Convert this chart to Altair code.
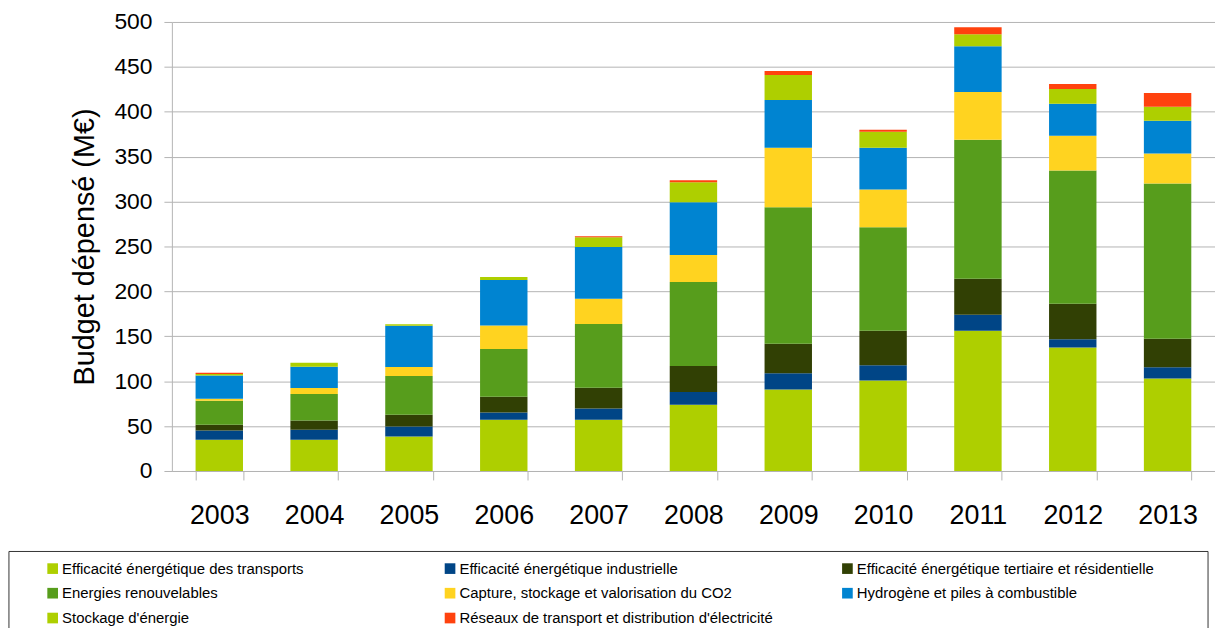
import altair as alt
import pandas as pd

years = ["2003", "2004", "2005", "2006", "2007", "2008", "2009", "2010", "2011", "2012", "2013"]

categories = [
    "Efficacité énergétique des transports",
    "Efficacité énergétique industrielle",
    "Efficacité énergétique tertiaire et résidentielle",
    "Energies renouvelables",
    "Capture, stockage et valorisation du CO2",
    "Hydrogène et piles à combustible",
    "Stockage d'énergie",
    "Réseaux de transport et distribution d'électricité",
]
colors = ["#AECF00", "#004586", "#314004", "#579D1C", "#FFD320", "#0084D1", "#AECF00", "#FF420E"]

# legend is filled column by column: order the entries so that rows read as in the original
legend_order = [0, 3, 6, 1, 4, 7, 2, 5]

transports = [34.8, 34.8, 38.5, 57.0, 57.0, 73.7, 90.8, 100.8, 156.2, 137.4, 103.0]
industrielle = [10.4, 11.1, 11.1, 8.2, 12.6, 14.4, 18.1, 17.0, 17.7, 9.2, 12.6]
tertiaire = [6.3, 10.3, 13.0, 17.4, 23.0, 28.9, 32.9, 38.4, 40.3, 39.5, 31.7]
renouvelables = [26.6, 29.6, 43.3, 53.3, 71.1, 93.4, 151.8, 115.2, 154.7, 148.5, 172.9]
co2 = [2.3, 6.7, 9.8, 26.0, 28.2, 30.0, 66.4, 42.1, 53.2, 38.7, 33.2]
hydrogene = [25.9, 23.7, 46.0, 50.7, 57.4, 58.9, 53.2, 46.5, 50.9, 35.5, 36.6]
stockage = [1.8, 4.4, 1.6, 3.3, 11.1, 22.2, 27.7, 17.8, 13.3, 16.6, 15.5]
reseaux = [1.2, 0.0, 0.0, 0.0, 1.1, 2.2, 4.4, 2.2, 7.8, 5.5, 15.5]

series = [transports, industrielle, tertiaire, renouvelables, co2, hydrogene, stockage, reseaux]
rows = []
for i, (cat, vals) in enumerate(zip(categories, series)):
    for y, v in zip(years, vals):
        rows.append({"Année": y, "Catégorie": cat, "Valeur": v, "ordre": i})
df = pd.DataFrame(rows)

legend_domain = [categories[i] for i in legend_order]
legend_range = [colors[i] for i in legend_order]

FONT = "Liberation Sans"
GRID = "#b3b3b3"

chart = (
    alt.Chart(df)
    .mark_bar()
    .encode(
        x=alt.X(
            "Année:N",
            sort=years,
            scale=alt.Scale(paddingInner=0.5, paddingOuter=0.25),
            axis=alt.Axis(
                title=None,
                labelAngle=0,
                labelFontSize=27,
                labelFont=FONT,
                labelColor="#000000",
                labelPadding=23,
                tickBand="extent",
                tickSize=9,
                tickColor=GRID,
                domainColor=GRID,
                grid=False,
            ),
        ),
        y=alt.Y(
            "Valeur:Q",
            stack="zero",
            scale=alt.Scale(domain=[0, 500], nice=False),
            axis=alt.Axis(
                title="Budget dépensé (M€)",
                titleFont=FONT,
                titleFontSize=29,
                titleFontWeight="normal",
                titleColor="#000000",
                titlePadding=15,
                values=list(range(0, 501, 50)),
                labelFontSize=23,
                labelFont=FONT,
                labelColor="#000000",
                labelPadding=12,
                tickSize=8,
                tickColor=GRID,
                domainColor=GRID,
                gridColor=GRID,
            ),
        ),
        color=alt.Color(
            "Catégorie:N",
            scale=alt.Scale(domain=legend_domain, range=legend_range),
            legend=alt.Legend(
                title=" ",
                titleOrient="right",
                titlePadding=44,
                titleFontSize=2,
                orient="none",
                legendX=-164.5,
                legendY=532.5,
                columns=3,
                gridAlign="all",
                columnPadding=40,
                rowPadding=9,
                padding=10,
                labelFont=FONT,
                labelFontSize=15,
                labelColor="#000000",
                labelLimit=500,
                labelOffset=2,
                symbolType="square",
                symbolSize=115,
                symbolStrokeWidth=0,
                symbolOpacity=1,
                symbolOffset=27,
                strokeColor="#333333",
                fillColor="#ffffff",
            ),
        ),
        order=alt.Order("ordre:Q", sort="ascending"),
    )
    .properties(width=1050, height=452, padding={"left": 8, "top": 9, "right": 0, "bottom": 0})
    .configure_view(stroke=None)
)

chart.save("out.html", embed_options={"renderer": "svg", "actions": False})
